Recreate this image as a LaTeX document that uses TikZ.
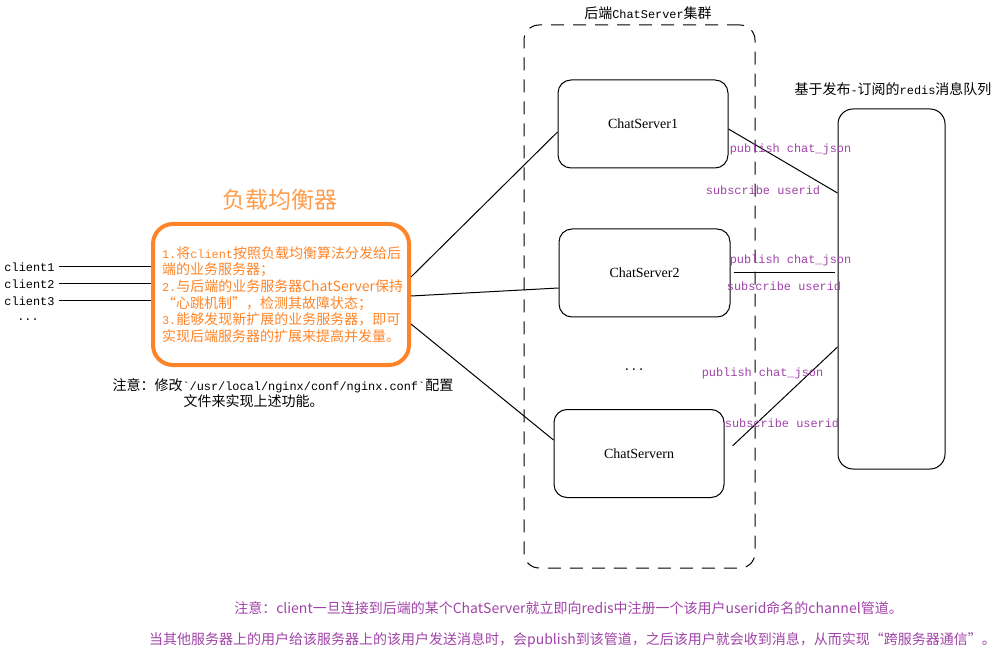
\documentclass[tikz,border=0pt]{standalone}
\usepackage{fontspec}
\setmainfont{Noto Sans CJK SC}
\newfontfamily\mono[Scale=0.85]{Liberation Mono}
\newfontfamily\csfont{Liberation Serif}
\usepackage{xcolor}
\definecolor{lborange}{HTML}{FF8427}
\definecolor{lbtitle}{HTML}{FF9D4D}
\definecolor{msgpurple}{HTML}{A042A8}

\tikzset{
  srv/.style={draw,rounded corners=13pt,minimum width=170pt,minimum height=88pt,font=\csfont\fontsize{14}{16}\selectfont},
  lbl/.style={text=msgpurple,font=\mono\fontsize{14}{16}\selectfont},
}

\begin{document}
\begin{tikzpicture}[x=1pt,y=-1pt,font=\fontsize{14}{16.6}\selectfont,line width=1pt]
        \useasboundingbox (0,0) rectangle (1004,660);
        % clients and load balancer
        \node[anchor=west,inner sep=0](c1) at (4,267) {\mono client1};
        \node[anchor=west,inner sep=0](c2) at (4,284) {\mono client2};
        \node[anchor=west,inner sep=0](c3) at (4,301) {\mono client3};
        \node(cd) at (28,320) {\mono ...};
        \node[text=lbtitle,font=\fontsize{23}{26}\selectfont](lbt) at (280,200) {负载均衡器};
        \node[draw=lborange,line width=4pt,rounded corners=20pt,minimum width=256pt,minimum height=141pt,
              text width=238pt,align=left,inner xsep=9pt,text=lborange](lb) at (281,294.5)
             {{\mono 1.}将{\mono client}按照负载均衡算法分发给后\\
              端的业务服务器；\\
              {\mono 2.}与后端的业务服务器ChatServer保持\\
              “心跳机制”，检测其故障状态；\\
              {\mono 3.}能够发现新扩展的业务服务器，即可\\
              实现后端服务器的扩展来提高并发量。};
        \node[align=left,anchor=north west,inner sep=0](note) at (112,378)
             {注意：修改{\mono \char"60/usr/local/nginx/conf/nginx.conf\char"60}配置\\
              \hspace*{71pt}文件来实现上述功能。};
        \draw[shorten <=4pt](c1.east)--(c1.east -| lb.west);
        \draw[shorten <=4pt](c2.east)--(c2.east -| lb.west);
        \draw[shorten <=4pt](c3.east)--(c3.east -| lb.west);
        % chat server cluster
        \node[draw,dash pattern=on 13pt off 9pt,rounded corners=15pt,minimum width=231pt,minimum height=543pt](cl) at (639.5,296.5) {};
        \node(clt) at (648,13) {后端{\mono ChatServer}集群};
        \node[srv](s1) at (643,124) {ChatServer1};
        \node[srv,minimum width=171pt](s2) at (644.5,273) {ChatServer2};
        \node(sd) at (634,370) {\mono ...};
        \node[srv](sn) at (639,453.5) {ChatServern};
        \draw([yshift=17.5pt]lb.east)--([yshift=-8pt]s1.west);
        \draw([yshift=-1.5pt]lb.east)--([yshift=-15pt]s2.west);
        \draw([yshift=-29.5pt]lb.east)--([yshift=13.5pt]sn.west);
        % redis queue
        \node[draw,rounded corners=15pt,minimum width=107pt,minimum height=360pt](mq) at (891.5,289) {};
        \node(mqt) at (893,89) {基于发布{\mono -}订阅的{\mono redis}消息队列};
        \draw([yshift=-5pt]s1.east)--([yshift=96pt]mq.west);
        \draw[shorten <=3pt,shorten >=3pt](s2.east)--(s2.east -| mq.west);
        \draw[shorten <=11pt](sn.east)--([yshift=-58pt]mq.west);
        \node[lbl](p1) at (790.5,149) {publish chat\_json};
        \node[lbl](u1) at (763,190) {subscribe userid};
        \node[lbl](p2) at (790.5,260) {publish chat\_json};
        \node[lbl](u2) at (784,286) {subscribe userid};
        \node[lbl](p3) at (762.5,373) {publish chat\_json};
        \node[lbl](u3) at (782,423) {subscribe userid};
        % notes at the bottom
        \node[text=msgpurple](n1) at (568.5,608) {注意：client一旦连接到后端的某个ChatServer就立即向redis中注册一个该用户userid命名的channel管道。};
        \node[text=msgpurple](n2) at (572.5,640) {当其他服务器上的用户给该服务器上的该用户发送消息时，会publish到该管道，之后该用户就会收到消息，从而实现“跨服务器通信”。};
\end{tikzpicture}
\end{document}
